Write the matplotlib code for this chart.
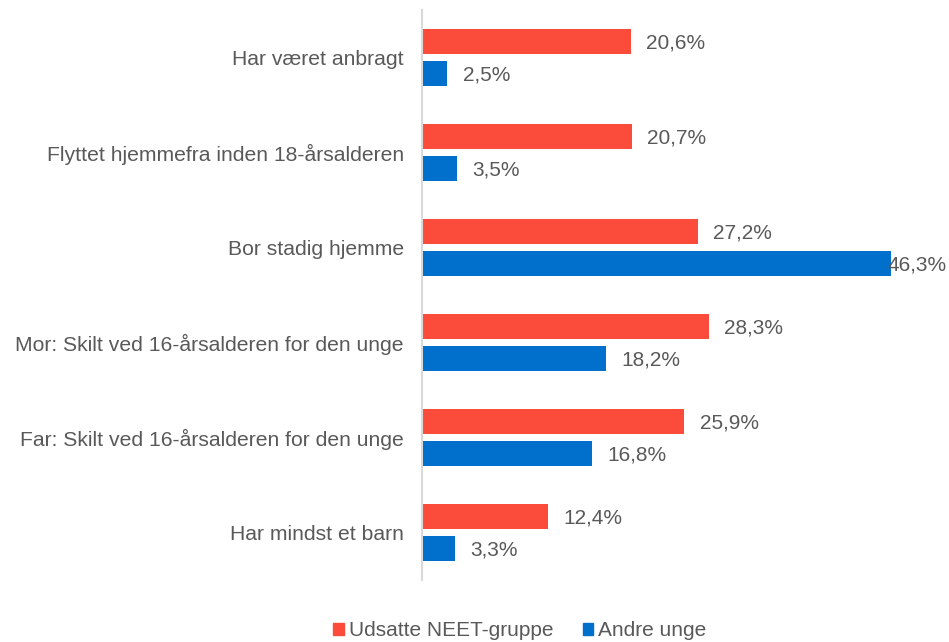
"""Horizontal grouped bars: udsatte NEET-gruppe vs andre unge."""
import matplotlib
matplotlib.use("Agg")
import matplotlib.pyplot as plt
from matplotlib.patches import Patch
import numpy as np

categories = [
    "Har været anbragt",
    "Flyttet hjemmefra inden 18-årsalderen",
    "Bor stadig hjemme",
    "Mor: Skilt ved 16-årsalderen for den unge",
    "Far: Skilt ved 16-årsalderen for den unge",
    "Har mindst et barn",
]
neet_values = [20.6, 20.7, 27.2, 28.3, 25.9, 12.4]
other_values = [2.5, 3.5, 46.3, 18.2, 16.8, 3.3]
series_names = ["Udsatte NEET-gruppe", "Andre unge"]

RED = "#FA4B3B"
BLUE = "#0070CC"
TEXT = "#595959"
W, H, DPI = 949, 642, 100

plt.rcParams['font.family'] = ['Liberation Sans', 'DejaVu Sans']

fig = plt.figure(figsize=(W / DPI, H / DPI), dpi=DPI)
ax = fig.add_axes([422 / W, 1 - 580 / H, (935 - 422) / W, 570 / H])

y = np.arange(len(categories))
bar_h = 0.265
off = 0.168
ax.barh(y - off, neet_values, height=bar_h, color=RED)
ax.barh(y + off, other_values, height=bar_h, color=BLUE)

ax.set_xlim(0, (935 - 422) / 10.13)
ax.set_ylim(len(categories) - 0.5, -0.5)
ax.set_yticks(y)
ax.set_yticklabels(categories, fontsize=15.2, color=TEXT)
ax.tick_params(axis='y', length=0, pad=13)
ax.set_xticks([])
for side in ['top', 'right', 'bottom']:
    ax.spines[side].set_visible(False)
ax.spines['left'].set_color('#D9D9D9')
ax.spines['left'].set_linewidth(1.5)

# value labels, outside end
labels = []
for vals, dy in [(neet_values, -off), (other_values, off)]:
    for i, v in enumerate(vals):
        t = ax.annotate(f"{v:.1f}%".replace('.', ','), (v, i + dy),
                        xytext=(11, -1), textcoords='offset points',
                        ha='left', va='center', fontsize=15, color=TEXT)
        labels.append(t)

# pull labels back inside the figure if they run off the edge
fig.canvas.draw()
renderer = fig.canvas.get_renderer()
for t in labels:
    bb = t.get_window_extent(renderer)
    over = bb.x1 - (W - 2)
    if over > 0:
        t.xyann = (11 - over * 72 / DPI, -1)

handles = [Patch(color=RED), Patch(color=BLUE)]
fig.legend(handles, series_names, loc='center', bbox_to_anchor=(520 / W, 1 - 631 / H),
           ncol=2, frameon=False, fontsize=15, labelcolor=TEXT,
           handlelength=0.5, handleheight=0.5, handletextpad=0.25, columnspacing=1.4)

fig.savefig("out.png", dpi=DPI)
plt.close(fig)
